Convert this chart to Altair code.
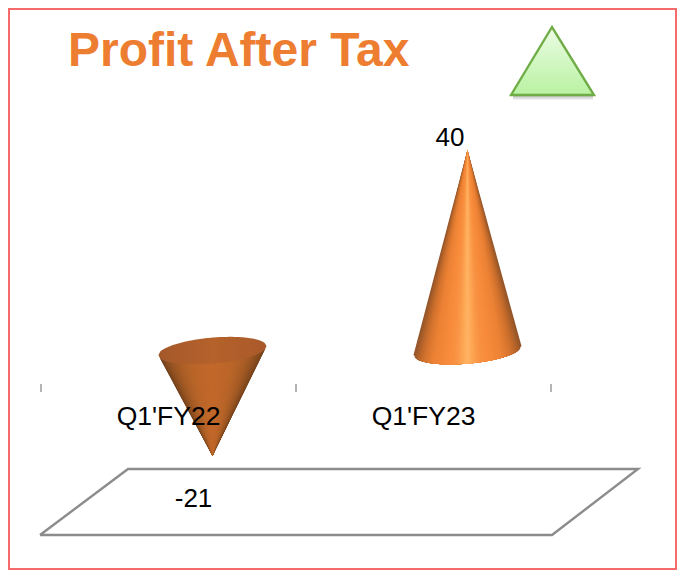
import math
import altair as alt
import pandas as pd

# ---- chart values ----
categories = ["Q1'FY22", "Q1'FY23"]
values = [-21, 40]
title_text = "Profit After Tax"

# ---- scale calibration ----
CAT_PX, CAT0_PX = 255.0, 168.5     # px per category, px of first category centre
UNIT_PX, ZERO_PX = 5.016, 350.6    # px per value unit, px of value zero
W, H = 669, 562
ORIGIN = 8


def X(px):
    return (px - CAT0_PX) / CAT_PX


def Y(py):
    return (ZERO_PX - py) / UNIT_PX


x_scale = alt.Scale(domain=[X(ORIGIN), X(ORIGIN + W)], nice=False, zero=False)
y_scale = alt.Scale(domain=[Y(ORIGIN + H), Y(ORIGIN)], nice=False, zero=False)
xq = alt.X("x:Q", scale=x_scale, axis=None)
yq = alt.Y("y:Q", scale=y_scale, axis=None)
y2q = alt.Y2("y2:Q")

# ---- cone geometry derived from the values ----
DEPTH = 0.1725     # 3D shift of the cones, in categories
RX = 54 / CAT_PX
RY = 13 / UNIT_PX
TILT = 0.083 * CAT_PX / UNIT_PX

up_ramp = ["#96562a", "#b8652a", "#d0722e", "#e07a31", "#ec8235", "#f08538",
           "#f5893a", "#f78c3c", "#f88f40", "#fa9748", "#fca552", "#ffb262"]
down_ramp = ["#6e3f1c", "#80491e", "#8f5020", "#9c5723", "#a75c25", "#af6027",
             "#b56328", "#ba6529", "#bd662a", "#bf672a", "#c0682a", "#c1682a"]


def refine(ramp, sub=4):
    out = []
    for a, b in zip(ramp, ramp[1:]):
        ca = [int(a[j:j + 2], 16) for j in (1, 3, 5)]
        cb = [int(b[j:j + 2], 16) for j in (1, 3, 5)]
        for s in range(sub):
            mix = [round(p + (q - p) * s / sub) for p, q in zip(ca, cb)]
            out.append("#%02x%02x%02x" % tuple(mix))
    out.append(ramp[-1])
    return out


def arc(dx, sign=-1):
    root = math.sqrt(max(0.0, 1 - (dx / RX) ** 2))
    return TILT * dx + sign * RY * root


def cone_rows(i, value, ramp):
    rows = []
    cx = i + DEPTH
    n = len(ramp)
    for k, colour in enumerate(ramp):
        half = RX * (1 - k / n)
        steps = 24
        dxs = [-half + 2 * half * s / steps for s in range(steps + 1)]
        dxs = sorted(set(dxs + [0.0]))
        yl, yr = arc(-half), arc(half)
        for dx in dxs:
            edge = (yl + (value - yl) * (dx + half) / half) if dx <= 0 else (
                yr + (value - yr) * (half - dx) / half)
            rows.append({"x": cx + dx, "y": edge, "y2": arc(dx),
                         "band": f"{i}-{k:02d}", "colour": colour})
    return rows


cone_data = pd.DataFrame(cone_rows(0, values[0], refine(down_ramp)) + cone_rows(1, values[1], refine(up_ramp)))
cones = alt.Chart(cone_data).mark_area(orient="vertical").encode(
    x=xq, y=yq, y2=y2q,
    color=alt.Color("colour:N", scale=None),
    detail="band:N",
)

lid_rows = []
for s in range(61):
    dx = -RX + 2 * RX * s / 60
    lid_rows.append({"x": DEPTH + dx, "y": arc(dx, 1), "y2": arc(dx, -1)})
lid = alt.Chart(pd.DataFrame(lid_rows)).mark_area(
    orient="vertical",
    color=alt.Gradient(
        gradient="linear", x1=0, x2=1, y1=0, y2=0,
        stops=[alt.GradientStop(color="#a4582a", offset=0),
               alt.GradientStop(color="#b5622b", offset=0.5),
               alt.GradientStop(color="#a9592a", offset=1)],
    ),
).encode(x=xq, y=yq, y2=y2q)

# ---- frame, floor, ticks ----
frame = alt.Chart(pd.DataFrame([{"x": X(9), "x2": X(676), "y": Y(569), "y2": Y(9)}])).mark_rect(
    fill=None, stroke="#f56a6a", strokeWidth=2
).encode(x=xq, x2="x2:Q", y=yq, y2=y2q)

floor_px = [(40, 535), (552, 535), (638, 469), (128, 469), (40, 535)]
floor = alt.Chart(pd.DataFrame(
    [{"x": X(a), "y": Y(b), "o": n} for n, (a, b) in enumerate(floor_px)]
)).mark_line(color="#8c8c8c", strokeWidth=2.4, strokeJoin="miter").encode(
    x=xq, y=yq, order="o:O")

tick_pos = [-0.5, 0.5, 1.5]
ticks = alt.Chart(pd.DataFrame(
    [{"x": t, "y": Y(384), "y2": Y(392)} for t in tick_pos]
)).mark_rule(color="#8c8c8c", strokeWidth=1.3).encode(x=xq, y=yq, y2=y2q)

# ---- texts ----
font = "Liberation Sans"
cat_text = alt.Chart(pd.DataFrame(
    [{"x": i, "y": Y(417), "t": c} for i, c in enumerate(categories)]
)).mark_text(font=font, fontSize=26.5, color="#000000", align="center", baseline="middle").encode(
    x=xq, y=yq, text="t:N")

value_nudge = [(193.5 - CAT0_PX) / CAT_PX, (450 - CAT0_PX - CAT_PX) / CAT_PX]
value_y = [Y(499), Y(137.5)]
val_text = alt.Chart(pd.DataFrame(
    [{"x": i + value_nudge[i], "y": value_y[i], "t": str(v)} for i, v in enumerate(values)]
)).mark_text(font=font, fontSize=26, color="#000000", align="center", baseline="middle").encode(
    x=xq, y=yq, text="t:N")

# ---- green up-triangle ----
shadow = alt.Chart(pd.DataFrame(
    [{"x": X(513), "x2": X(593), "y": Y(96 + n)} for n in range(5)] ,
)).mark_rule(color="#808080", strokeWidth=1).encode(
    x=xq, x2="x2:Q", y=yq, opacity=alt.Opacity("y:Q", legend=None, scale=alt.Scale(range=[0.05, 0.55])))

tri = alt.Chart(pd.DataFrame([
    {"x": X(511), "y": Y(95), "y2": Y(95)},
    {"x": X(552), "y": Y(27), "y2": Y(95)},
    {"x": X(594), "y": Y(95), "y2": Y(95)},
])).mark_area(
    orient="vertical", stroke="#70ad47", strokeWidth=2.4, strokeJoin="miter",
    color=alt.Gradient(
        gradient="linear", x1=0, x2=0, y1=0, y2=1,
        stops=[alt.GradientStop(color="#ecfce6", offset=0),
               alt.GradientStop(color="#b9f2a1", offset=1)],
    ),
).encode(x=xq, y=yq, y2=y2q)

chart = alt.layer(frame, floor, ticks, cones, lid, cat_text, val_text, shadow, tri).properties(
    width=W, height=H, padding=0, autosize=alt.AutoSizeParams(type="none"),
    title=alt.TitleParams(title_text, font=font, fontSize=48, fontWeight="bold", color="#ed7d31",
                          anchor="start", frame="group", orient="top", offset=0, dx=60, dy=106,
                          baseline="alphabetic"),
).configure_view(stroke=None)

chart.save("out.html", embed_options={"renderer": "svg", "actions": False})
